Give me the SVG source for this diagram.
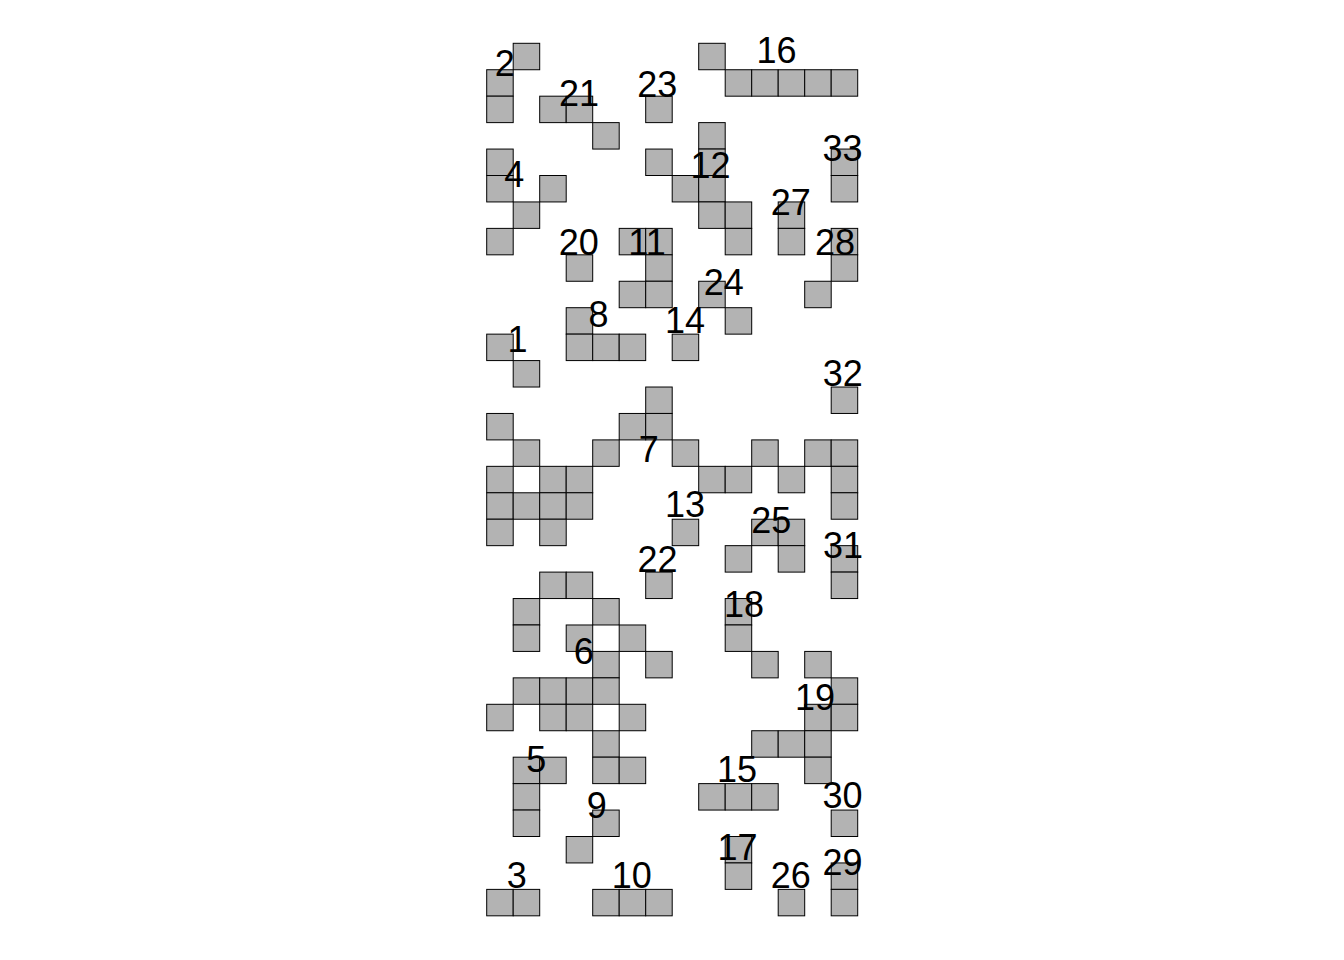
<svg xmlns="http://www.w3.org/2000/svg" width="1344" height="960" viewBox="0 0 1344 960">
<style>
rect.c{fill:#b3b3b3;stroke:#000;stroke-width:1}
text{font-family:"Liberation Sans",Arial,sans-serif;font-size:36px;fill:#000;text-anchor:middle}
</style>
<rect width="1344" height="960" fill="#fff"/>
<g id="p2"><rect class="c" x="513.2" y="43.3" width="26.5" height="26.44"/><rect class="c" x="486.7" y="69.74" width="26.5" height="26.44"/><rect class="c" x="486.7" y="96.18" width="26.5" height="26.44"/><text x="504.7" y="75.7">2</text></g>
<g id="p16"><rect class="c" x="698.7" y="43.3" width="26.5" height="26.44"/><rect class="c" x="725.2" y="69.74" width="26.5" height="26.44"/><rect class="c" x="751.7" y="69.74" width="26.5" height="26.44"/><rect class="c" x="778.2" y="69.74" width="26.5" height="26.44"/><rect class="c" x="804.7" y="69.74" width="26.5" height="26.44"/><rect class="c" x="831.2" y="69.74" width="26.5" height="26.44"/><text x="776.5" y="63.3">16</text></g>
<g id="p21"><rect class="c" x="539.7" y="96.18" width="26.5" height="26.44"/><rect class="c" x="566.2" y="96.18" width="26.5" height="26.44"/><rect class="c" x="592.7" y="122.62" width="26.5" height="26.44"/><text x="579" y="105.7">21</text></g>
<g id="p23"><rect class="c" x="645.7" y="96.18" width="26.5" height="26.44"/><text x="657.2" y="96.7">23</text></g>
<g id="p4"><rect class="c" x="486.7" y="149.06" width="26.5" height="26.44"/><rect class="c" x="486.7" y="175.5" width="26.5" height="26.44"/><rect class="c" x="539.7" y="175.5" width="26.5" height="26.44"/><rect class="c" x="513.2" y="201.94" width="26.5" height="26.44"/><rect class="c" x="486.7" y="228.38" width="26.5" height="26.44"/><text x="514.2" y="186.7">4</text></g>
<g id="p12"><rect class="c" x="698.7" y="122.62" width="26.5" height="26.44"/><rect class="c" x="645.7" y="149.06" width="26.5" height="26.44"/><rect class="c" x="698.7" y="149.06" width="26.5" height="26.44"/><rect class="c" x="672.2" y="175.5" width="26.5" height="26.44"/><rect class="c" x="698.7" y="175.5" width="26.5" height="26.44"/><rect class="c" x="698.7" y="201.94" width="26.5" height="26.44"/><rect class="c" x="725.2" y="201.94" width="26.5" height="26.44"/><rect class="c" x="725.2" y="228.38" width="26.5" height="26.44"/><text x="710.5" y="178.3">12</text></g>
<g id="p33"><rect class="c" x="831.2" y="149.06" width="26.5" height="26.44"/><rect class="c" x="831.2" y="175.5" width="26.5" height="26.44"/><text x="842.5" y="161">33</text></g>
<g id="p27"><rect class="c" x="778.2" y="201.94" width="26.5" height="26.44"/><rect class="c" x="778.2" y="228.38" width="26.5" height="26.44"/><text x="790.8" y="215">27</text></g>
<g id="p28"><rect class="c" x="831.2" y="228.38" width="26.5" height="26.44"/><rect class="c" x="831.2" y="254.82" width="26.5" height="26.44"/><rect class="c" x="804.7" y="281.26" width="26.5" height="26.44"/><text x="835" y="255">28</text></g>
<g id="p20"><rect class="c" x="566.2" y="254.82" width="26.5" height="26.44"/><text x="578.7" y="255">20</text></g>
<g id="p11"><rect class="c" x="619.2" y="228.38" width="26.5" height="26.44"/><rect class="c" x="645.7" y="228.38" width="26.5" height="26.44"/><rect class="c" x="645.7" y="254.82" width="26.5" height="26.44"/><rect class="c" x="619.2" y="281.26" width="26.5" height="26.44"/><rect class="c" x="645.7" y="281.26" width="26.5" height="26.44"/><text x="647" y="255">11</text></g>
<g id="p24"><rect class="c" x="698.7" y="281.26" width="26.5" height="26.44"/><rect class="c" x="725.2" y="307.7" width="26.5" height="26.44"/><text x="723.8" y="295">24</text></g>
<g id="p14"><rect class="c" x="672.2" y="334.14" width="26.5" height="26.44"/><text x="685.1" y="333.3">14</text></g>
<g id="p8"><rect class="c" x="566.2" y="307.7" width="26.5" height="26.44"/><rect class="c" x="566.2" y="334.14" width="26.5" height="26.44"/><rect class="c" x="592.7" y="334.14" width="26.5" height="26.44"/><rect class="c" x="619.2" y="334.14" width="26.5" height="26.44"/><text x="598.5" y="326.7">8</text></g>
<g id="p1"><rect class="c" x="486.7" y="334.14" width="26.5" height="26.44"/><rect class="c" x="513.2" y="360.58" width="26.5" height="26.44"/><text x="517.5" y="351.7">1</text></g>
<g id="p32"><rect class="c" x="831.2" y="387.02" width="26.5" height="26.44"/><text x="842.8" y="386">32</text></g>
<g id="p7"><rect class="c" x="645.7" y="387.02" width="26.5" height="26.44"/><rect class="c" x="486.7" y="413.46" width="26.5" height="26.44"/><rect class="c" x="619.2" y="413.46" width="26.5" height="26.44"/><rect class="c" x="645.7" y="413.46" width="26.5" height="26.44"/><rect class="c" x="513.2" y="439.9" width="26.5" height="26.44"/><rect class="c" x="592.7" y="439.9" width="26.5" height="26.44"/><rect class="c" x="672.2" y="439.9" width="26.5" height="26.44"/><rect class="c" x="751.7" y="439.9" width="26.5" height="26.44"/><rect class="c" x="804.7" y="439.9" width="26.5" height="26.44"/><rect class="c" x="831.2" y="439.9" width="26.5" height="26.44"/><rect class="c" x="486.7" y="466.34" width="26.5" height="26.44"/><rect class="c" x="539.7" y="466.34" width="26.5" height="26.44"/><rect class="c" x="566.2" y="466.34" width="26.5" height="26.44"/><rect class="c" x="698.7" y="466.34" width="26.5" height="26.44"/><rect class="c" x="725.2" y="466.34" width="26.5" height="26.44"/><rect class="c" x="778.2" y="466.34" width="26.5" height="26.44"/><rect class="c" x="831.2" y="466.34" width="26.5" height="26.44"/><rect class="c" x="486.7" y="492.78" width="26.5" height="26.44"/><rect class="c" x="513.2" y="492.78" width="26.5" height="26.44"/><rect class="c" x="539.7" y="492.78" width="26.5" height="26.44"/><rect class="c" x="566.2" y="492.78" width="26.5" height="26.44"/><rect class="c" x="831.2" y="492.78" width="26.5" height="26.44"/><rect class="c" x="486.7" y="519.22" width="26.5" height="26.44"/><rect class="c" x="539.7" y="519.22" width="26.5" height="26.44"/><text x="648.8" y="462.3">7</text></g>
<g id="p13"><rect class="c" x="672.2" y="519.22" width="26.5" height="26.44"/><text x="685.1" y="517.3">13</text></g>
<g id="p25"><rect class="c" x="751.7" y="519.22" width="26.5" height="26.44"/><rect class="c" x="778.2" y="519.22" width="26.5" height="26.44"/><rect class="c" x="725.2" y="545.66" width="26.5" height="26.44"/><rect class="c" x="778.2" y="545.66" width="26.5" height="26.44"/><text x="771.3" y="532.7">25</text></g>
<g id="p31"><rect class="c" x="831.2" y="545.66" width="26.5" height="26.44"/><rect class="c" x="831.2" y="572.1" width="26.5" height="26.44"/><text x="843" y="558.3">31</text></g>
<g id="p22"><rect class="c" x="645.7" y="572.1" width="26.5" height="26.44"/><text x="657.5" y="571.7">22</text></g>
<g id="p6"><rect class="c" x="539.7" y="572.1" width="26.5" height="26.44"/><rect class="c" x="566.2" y="572.1" width="26.5" height="26.44"/><rect class="c" x="513.2" y="598.54" width="26.5" height="26.44"/><rect class="c" x="592.7" y="598.54" width="26.5" height="26.44"/><rect class="c" x="513.2" y="624.98" width="26.5" height="26.44"/><rect class="c" x="566.2" y="624.98" width="26.5" height="26.44"/><rect class="c" x="619.2" y="624.98" width="26.5" height="26.44"/><rect class="c" x="592.7" y="651.42" width="26.5" height="26.44"/><rect class="c" x="645.7" y="651.42" width="26.5" height="26.44"/><rect class="c" x="513.2" y="677.86" width="26.5" height="26.44"/><rect class="c" x="539.7" y="677.86" width="26.5" height="26.44"/><rect class="c" x="566.2" y="677.86" width="26.5" height="26.44"/><rect class="c" x="592.7" y="677.86" width="26.5" height="26.44"/><rect class="c" x="486.7" y="704.3" width="26.5" height="26.44"/><rect class="c" x="539.7" y="704.3" width="26.5" height="26.44"/><rect class="c" x="566.2" y="704.3" width="26.5" height="26.44"/><rect class="c" x="619.2" y="704.3" width="26.5" height="26.44"/><rect class="c" x="592.7" y="730.74" width="26.5" height="26.44"/><rect class="c" x="592.7" y="757.18" width="26.5" height="26.44"/><rect class="c" x="619.2" y="757.18" width="26.5" height="26.44"/><text x="583.7" y="664.3">6</text></g>
<g id="p18"><rect class="c" x="725.2" y="598.54" width="26.5" height="26.44"/><rect class="c" x="725.2" y="624.98" width="26.5" height="26.44"/><rect class="c" x="751.7" y="651.42" width="26.5" height="26.44"/><text x="744" y="617.3">18</text></g>
<g id="p19"><rect class="c" x="804.7" y="651.42" width="26.5" height="26.44"/><rect class="c" x="831.2" y="677.86" width="26.5" height="26.44"/><rect class="c" x="804.7" y="704.3" width="26.5" height="26.44"/><rect class="c" x="831.2" y="704.3" width="26.5" height="26.44"/><rect class="c" x="751.7" y="730.74" width="26.5" height="26.44"/><rect class="c" x="778.2" y="730.74" width="26.5" height="26.44"/><rect class="c" x="804.7" y="730.74" width="26.5" height="26.44"/><rect class="c" x="804.7" y="757.18" width="26.5" height="26.44"/><text x="815" y="710">19</text></g>
<g id="p5"><rect class="c" x="513.2" y="757.18" width="26.5" height="26.44"/><rect class="c" x="539.7" y="757.18" width="26.5" height="26.44"/><rect class="c" x="513.2" y="783.62" width="26.5" height="26.44"/><rect class="c" x="513.2" y="810.06" width="26.5" height="26.44"/><text x="536.3" y="771.7">5</text></g>
<g id="p15"><rect class="c" x="698.7" y="783.62" width="26.5" height="26.44"/><rect class="c" x="725.2" y="783.62" width="26.5" height="26.44"/><rect class="c" x="751.7" y="783.62" width="26.5" height="26.44"/><text x="737.1" y="781.7">15</text></g>
<g id="p9"><rect class="c" x="592.7" y="810.06" width="26.5" height="26.44"/><rect class="c" x="566.2" y="836.5" width="26.5" height="26.44"/><text x="596.7" y="818.3">9</text></g>
<g id="p30"><rect class="c" x="831.2" y="810.06" width="26.5" height="26.44"/><text x="842.5" y="808.3">30</text></g>
<g id="p17"><rect class="c" x="725.2" y="836.5" width="26.5" height="26.44"/><rect class="c" x="725.2" y="862.94" width="26.5" height="26.44"/><text x="737.6" y="860">17</text></g>
<g id="p29"><rect class="c" x="831.2" y="862.94" width="26.5" height="26.44"/><rect class="c" x="831.2" y="889.38" width="26.5" height="26.44"/><text x="842.5" y="875">29</text></g>
<g id="p3"><rect class="c" x="486.7" y="889.38" width="26.5" height="26.44"/><rect class="c" x="513.2" y="889.38" width="26.5" height="26.44"/><text x="516.7" y="888.3">3</text></g>
<g id="p10"><rect class="c" x="592.7" y="889.38" width="26.5" height="26.44"/><rect class="c" x="619.2" y="889.38" width="26.5" height="26.44"/><rect class="c" x="645.7" y="889.38" width="26.5" height="26.44"/><text x="631.8" y="888.3">10</text></g>
<g id="p26"><rect class="c" x="778.2" y="889.38" width="26.5" height="26.44"/><text x="790.8" y="888.3">26</text></g>
<g id="connectors"/>
</svg>
